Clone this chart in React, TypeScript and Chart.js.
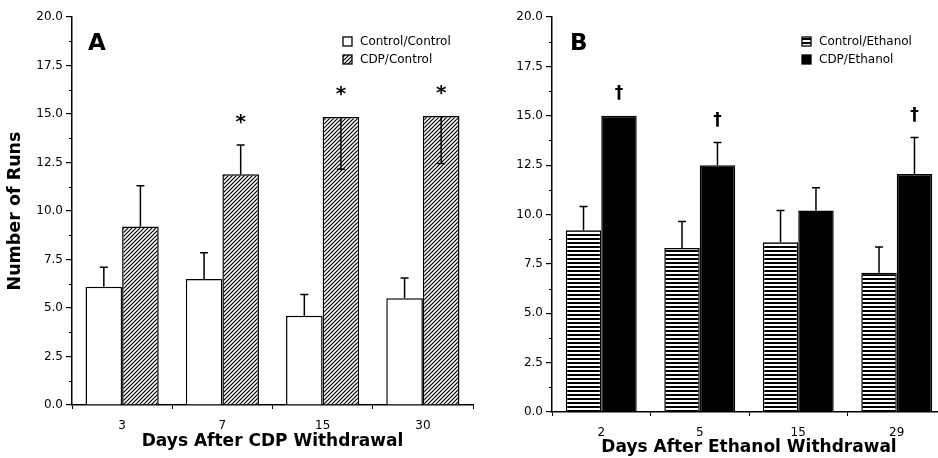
import React, { useEffect, useRef } from 'react';
import { Chart, registerables } from 'chart.js';
Chart.register(...registerables);

const daysA = ['3', '7', '15', '30'];
const controlControl = [6.1, 6.5, 4.6, 5.5];
const controlControlErr = [1.0, 1.35, 1.1, 1.05];
const controlControlDir = [1, 1, 1, 1];
const cdpControl = [9.2, 11.9, 14.85, 14.9];
const cdpControlErr = [2.1, 1.5, 2.7, 2.45];
const cdpControlDir = [1, 1, -1, -1];
const cdpControlSig = ['', '*', '*', '*'];

const daysB = ['2', '5', '15', '29'];
const controlEthanol = [9.2, 8.3, 8.6, 7.05];
const controlEthanolErr = [1.2, 1.35, 1.6, 1.3];
const controlEthanolDir = [1, 1, 1, 1];
const cdpEthanol = [15.0, 12.5, 10.2, 12.05];
const cdpEthanolErr = [0, 1.15, 1.15, 1.85];
const cdpEthanolDir = [1, 1, 1, 1];
const cdpEthanolSig = ['†', '†', '', '†'];

const FONT = "'DejaVu Sans', 'Liberation Sans', sans-serif";

function hatchPattern(): CanvasPattern {
  const c = document.createElement('canvas');
  c.width = 4; c.height = 4;
  const g = c.getContext('2d')!;
  g.fillStyle = '#fff'; g.fillRect(0, 0, 4, 4);
  g.strokeStyle = '#000'; g.lineWidth = 1.2;
  g.beginPath();
  g.moveTo(-1, 5); g.lineTo(5, -1);
  g.moveTo(-1, 1); g.lineTo(1, -1);
  g.moveTo(3, 5); g.lineTo(5, 3);
  g.stroke();
  return g.createPattern(c, 'repeat')!;
}

function stripePattern(): CanvasPattern {
  const c = document.createElement('canvas');
  c.width = 4; c.height = 4;
  const g = c.getContext('2d')!;
  g.fillStyle = '#fff'; g.fillRect(0, 0, 4, 4);
  g.fillStyle = '#000'; g.fillRect(0, 2, 4, 2);
  return g.createPattern(c, 'repeat')!;
}

const decorPlugin = {
  id: 'paperDecor',
  afterDatasetsDraw(chart: any) {
    const ctx = chart.ctx;
    const y = chart.scales.y;
    ctx.save();
    ctx.strokeStyle = '#000';
    ctx.lineWidth = 1.5;
    chart.data.datasets.forEach((ds: any, d: number) => {
      const meta = chart.getDatasetMeta(d);
      ds.data.forEach((v: number, i: number) => {
        const bar = meta.data[i];
        const e = ds.errors[i];
        const dir = ds.errDir[i];
        const x = bar.x;
        const y1 = y.getPixelForValue(v);
        let topPx = y1;
        if (e > 0) {
          const y2 = y.getPixelForValue(v + dir * e);
          ctx.beginPath();
          ctx.moveTo(x, y1); ctx.lineTo(x, y2);
          ctx.moveTo(x - 4, y2); ctx.lineTo(x + 4, y2);
          ctx.stroke();
          if (dir > 0) topPx = y2;
        }
        const s = ds.sig ? ds.sig[i] : '';
        if (s) {
          const opt = chart.options.plugins.paperDecor;
          ctx.fillStyle = '#000';
          ctx.font = `bold ${s === '*' ? 20 : 17}px ${FONT}`;
          ctx.textAlign = 'center';
          ctx.textBaseline = 'alphabetic';
          const m = ctx.measureText(s);
          const cy = topPx - opt.sigGap;
          ctx.fillText(s, x, cy + (m.actualBoundingBoxAscent - m.actualBoundingBoxDescent) / 2);
        }
      });
    });
    ctx.restore();
  },
  afterDraw(chart: any) {
    const ctx = chart.ctx;
    const opt = chart.options.plugins.paperDecor;
    const area = chart.chartArea;
    const y = chart.scales.y;
    ctx.save();
    ctx.strokeStyle = '#000';
    ctx.lineWidth = 1;
    for (let v = 1.25; v < 20; v += 2.5) {
      const py = Math.round(y.getPixelForValue(v)) + 0.5;
      ctx.beginPath();
      ctx.moveTo(area.left - 3, py); ctx.lineTo(area.left, py);
      ctx.stroke();
    }
    ctx.fillStyle = '#000';
    ctx.font = `bold 23px ${FONT}`;
    ctx.textAlign = 'left';
    ctx.textBaseline = 'alphabetic';
    ctx.fillText(opt.panel, area.left + opt.panelX, area.top + 33);
    chart.data.datasets.forEach((ds: any, k: number) => {
      const bx = area.left + opt.legendX;
      const by = area.top + opt.legendY + k * 18;
      ctx.fillStyle = ds.backgroundColor;
      ctx.fillRect(bx, by, 9, 9);
      ctx.strokeStyle = '#000';
      ctx.lineWidth = 1.3;
      ctx.strokeRect(bx, by, 9, 9);
      ctx.fillStyle = '#000';
      ctx.font = `12px ${FONT}`;
      ctx.textBaseline = 'middle';
      ctx.fillText(ds.label, bx + 17, by + 5);
    });
    ctx.restore();
  },
};

function makeConfig(p: any) {
  return {
    type: 'bar',
    data: {
      labels: p.labels,
      datasets: p.datasets.map((d: any) => ({
        label: d.label,
        data: d.data,
        errors: d.errors,
        errDir: d.dir,
        sig: d.sig,
        backgroundColor: d.bg,
        borderColor: '#000',
        borderWidth: 1.5,
        categoryPercentage: p.catPct,
        barPercentage: 1.0,
      })),
    },
    options: {
      responsive: false,
      animation: false,
      devicePixelRatio: 1,
      layout: { padding: { top: 17, right: 2, left: 0, bottom: 0 } },
      plugins: {
        legend: { display: false },
        title: { display: false },
        tooltip: { enabled: false },
        paperDecor: { panel: p.panel, panelX: p.panelX, legendX: p.legendX, legendY: 20, sigGap: p.sigGap },
      },
      scales: {
        x: {
          type: 'category',
          ticks: { color: '#000', padding: 10, font: { size: 12, family: FONT } },
          grid: { offset: true, drawOnChartArea: false, tickLength: 4, color: '#000' },
          border: { color: '#000', width: 1.5 },
          title: {
            display: true, text: p.xTitle, color: '#000',
            font: { size: 17, weight: 'bold', family: FONT },
            padding: { top: 0, bottom: p.xTitlePad },
          },
          afterFit: (s: any) => { s.height = p.xHeight; },
        },
        y: {
          min: 0, max: 20,
          ticks: {
            stepSize: 2.5, color: '#000', padding: 3,
            font: { size: 12, family: FONT },
            callback: (v: any) => Number(v).toFixed(1),
          },
          grid: { drawOnChartArea: false, tickLength: 6, color: '#000', lineWidth: 1.2 },
          border: { color: '#000', width: 1.5 },
          title: p.yTitle
            ? { display: true, text: p.yTitle, color: '#000', font: { size: 17.5, weight: 'bold', family: FONT }, padding: { top: 5 } }
            : { display: false },
          afterFit: (s: any) => { s.width = 72; },
        },
      },
    },
    plugins: [decorPlugin],
  };
}

function Panel({ left, width, build }: { left: number; width: number; build: () => any }) {
  const ref = useRef<HTMLCanvasElement>(null);
  useEffect(() => {
    const chart = new Chart(ref.current!, build());
    return () => chart.destroy();
  }, []);
  return (
    <canvas
      ref={ref}
      width={width}
      height={458}
      style={{ position: 'absolute', left, top: 0, width, height: 458 }}
    />
  );
}

export default function App() {
  const buildA = () =>
    makeConfig({
      panel: 'A', panelX: 16, legendX: 271, sigGap: 26,
      labels: daysA, catPct: 0.73,
      xTitle: 'Days After CDP Withdrawal', xTitlePad: 6, xHeight: 53,
      yTitle: 'Number of Runs',
      datasets: [
        { label: 'Control/Control', data: controlControl, errors: controlControlErr, dir: controlControlDir, bg: '#ffffff' },
        { label: 'CDP/Control', data: cdpControl, errors: cdpControlErr, dir: cdpControlDir, sig: cdpControlSig, bg: hatchPattern() },
      ],
    });
  const buildB = () =>
    makeConfig({
      panel: 'B', panelX: 18, legendX: 250, sigGap: 23,
      labels: daysB, catPct: 0.72,
      xTitle: 'Days After Ethanol Withdrawal', xTitlePad: 0, xHeight: 46,
      yTitle: '',
      datasets: [
        { label: 'Control/Ethanol', data: controlEthanol, errors: controlEthanolErr, dir: controlEthanolDir, bg: stripePattern() },
        { label: 'CDP/Ethanol', data: cdpEthanol, errors: cdpEthanolErr, dir: cdpEthanolDir, sig: cdpEthanolSig, bg: '#000000' },
      ],
    });
  return (
    <div style={{ position: 'absolute', left: 0, top: 0, width: 938, height: 458, overflow: 'hidden', background: '#fff' }}>
      <Panel left={0} width={475} build={buildA} />
      <Panel left={480} width={468} build={buildB} />
    </div>
  );
}
